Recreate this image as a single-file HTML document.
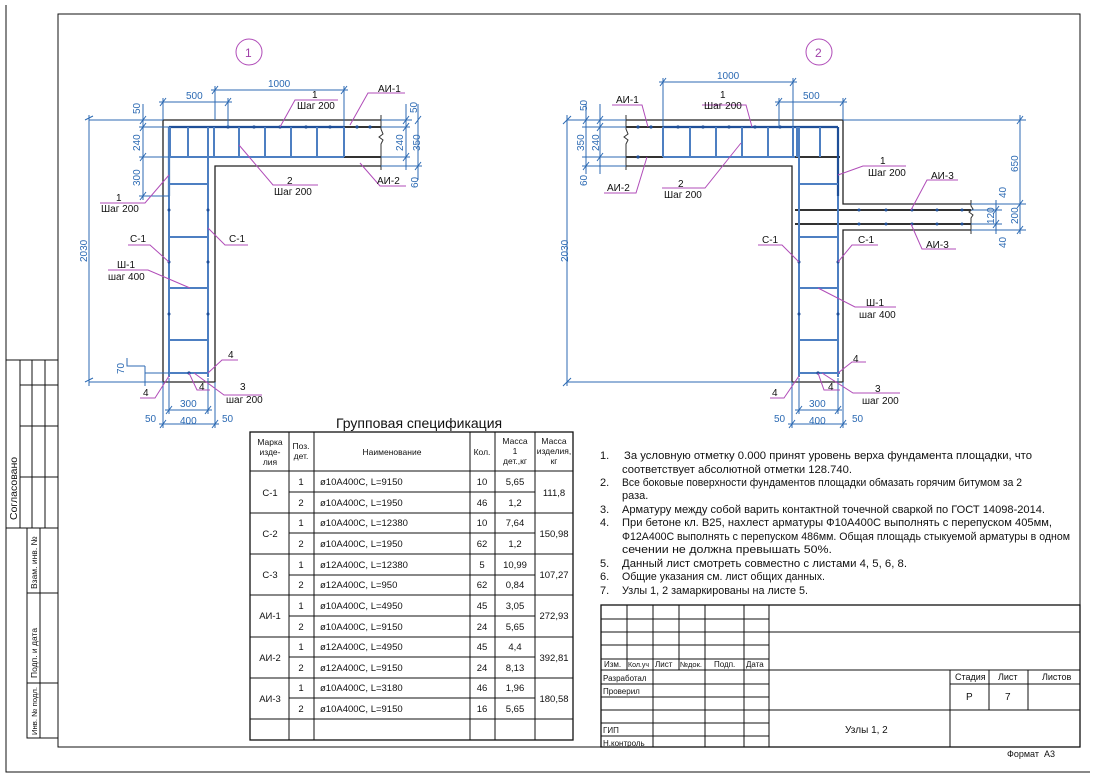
<!DOCTYPE html>
<html><head><meta charset="utf-8"><style>
html,body{margin:0;padding:0;background:#fff}
svg{display:block}
text{font-family:"Liberation Sans",sans-serif;fill:#111}
.d{stroke:#2c6ab3;stroke-width:1;fill:none}
.dt{fill:#2c6ab3;font-size:10px}
.m{stroke:#b04cb8;stroke-width:1;fill:none}
.k{stroke:#222;stroke-width:1.3;fill:none}
.r{stroke:#1f4f98;stroke-width:2.2;fill:none}
.s{stroke:#4d7fc2;stroke-width:2;fill:none}
.g{stroke:#333;stroke-width:2;fill:none}
.l{stroke:#111;stroke-width:1;fill:none}
.t{font-size:10px}
</style></head><body>
<svg width="1096" height="776" viewBox="0 0 1096 776" xmlns="http://www.w3.org/2000/svg">
<path class="l" d="M6,5 V772 H1090"/>
<rect x="58" y="14" width="1022" height="733" class="l" stroke-width="1.2"/>
<g class="l">
<rect x="6" y="360" width="52" height="168"/>
<path d="M20,360V528 M32,360V528 M45,360V528 M20,385H58 M20,426H58 M20,477H58"/>
<rect x="27" y="528" width="31" height="210"/>
<path d="M40,528V738 M27,593H58 M27,683H58"/>
</g>
<text transform="translate(17,520) rotate(-90)" font-size="10.5">Согласовано</text>
<text transform="translate(37,589) rotate(-90)" font-size="8.5">Взам. инв. №</text>
<text transform="translate(37,678) rotate(-90)" font-size="8.5">Подп. и дата</text>
<text transform="translate(37,735) rotate(-90)" font-size="7.5" textLength="48" lengthAdjust="spacingAndGlyphs">Инв. № подл.</text>

<!-- ============ DRAWING 1 ============ -->
<circle cx="249" cy="52" r="13" class="m"/>
<text x="245" y="57" font-size="12" style="fill:#a040a8">1</text>
<path class="k" d="M163,120 H381 M163,120 V382 H215 V166 H381"/>
<path d="M381,115 V129 l2,5 -4,3 4,3 -2,4 V170" stroke="#333" fill="none" stroke-width="1"/>
<path class="r" d="M169,127 H344 M169,127 V196"/>
<path class="g" d="M344,127 H381 M344,157 H381"/>
<path class="s" d="M169,157 H344 M169,127 V377 M208,127 V377"/>
<g class="s" stroke-width="1.6">
<path d="M188,127V157 M214,127V157 M239,127V157 M265,127V157 M291,127V157 M317,127V157 M344,127V157 M170,127V157"/>
<path d="M169,184H208 M169,237H208 M169,288H208 M169,340H208 M169,373H208"/>
</g>
<g fill="#1f4f98"><circle cx="228" cy="127" r="1.6"/><circle cx="254" cy="127" r="1.6"/><circle cx="280" cy="127" r="1.6"/><circle cx="306" cy="127" r="1.6"/><circle cx="330" cy="127" r="1.6"/><circle cx="357" cy="127" r="1.6"/><circle cx="370" cy="127" r="1.6"/><circle cx="169" cy="210" r="1.5"/><circle cx="208" cy="210" r="1.5"/><circle cx="169" cy="262" r="1.5"/><circle cx="208" cy="262" r="1.5"/><circle cx="169" cy="314" r="1.5"/><circle cx="208" cy="314" r="1.5"/><circle cx="189" cy="373" r="1.6"/></g>
<g class="d">
<path d="M215,86V120 M344,86V127 M211,90H348 M228,98V127 M163,98V120 M159,102H232"/>
<path d="M89,120H163 M89,382H163 M89,115V386 M85,120L93,116 M85,382L93,378"/>
<path d="M143,104V200 M139,120H163 M139,127H169 M139,157H169 M139,196H169"/>
<path d="M381,120H412 M381,127H410 M381,157H410 M381,166H422 M406,104V170 M418,104V180"/>
<path d="M163,382V428 M169,378V414 M208,378V414 M215,382V428 M165,410H212 M159,424H219"/>
<path d="M145,373H169 M145,382H163 M145,366V386 M127,358V366H145"/>
</g>
<g class="d" stroke-width="1.3"><path d="M212,94l6,-8 M341,94l6,-8 M160,106l6,-8 M225,106l6,-8 M140,124l6,-8 M140,131l6,-8 M140,161l6,-8 M140,200l6,-8 M403,124l6,-8 M403,131l6,-8 M403,161l6,-8 M415,124l6,-8 M415,170l6,-8 M166,414l6,-8 M205,414l6,-8 M160,428l6,-8 M212,428l6,-8"/></g>
<text class="dt" x="268" y="87">1000</text>
<text class="dt" x="186" y="99">500</text>
<text class="dt" transform="translate(140,114) rotate(-90)">50</text>
<text class="dt" transform="translate(140,151) rotate(-90)">240</text>
<text class="dt" transform="translate(140,186) rotate(-90)">300</text>
<text class="dt" transform="translate(87,262) rotate(-90)">2030</text>
<text class="dt" transform="translate(417,113) rotate(-90)">50</text>
<text class="dt" transform="translate(403,151) rotate(-90)">240</text>
<text class="dt" transform="translate(420,151) rotate(-90)">350</text>
<text class="dt" transform="translate(418,188) rotate(-90)">60</text>
<text class="dt" transform="translate(124,374) rotate(-90)">70</text>
<text class="dt" x="180" y="407">300</text>
<text class="dt" x="180" y="424">400</text>
<text class="dt" x="145" y="422">50</text>
<text class="dt" x="222" y="422">50</text>
<g class="m">
<path d="M280,127L295,100H338 M239,145L273,185H318 M169,175L145,203H100 M350,125L368,93H405 M360,163L380,186H406"/>
<path d="M208,228L225,245H248 M169,262L150,245H128 M190,288L148,270H108"/>
<path d="M208,373L222,360H238 M169,376L155,398H140 M189,373L197,390H210 M194,373L224,395H262"/>
</g>
<text class="t" x="312" y="98">1</text><text class="t" x="297" y="109">Шаг 200</text>
<text class="t" x="287" y="184">2</text><text class="t" x="274" y="195">Шаг 200</text>
<text class="t" x="116" y="201">1</text><text class="t" x="101" y="212">Шаг 200</text>
<text class="t" x="378" y="92">АИ-1</text>
<text class="t" x="377" y="184">АИ-2</text>
<text class="t" x="130" y="242">С-1</text>
<text class="t" x="229" y="242">С-1</text>
<text class="t" x="117" y="268">Ш-1</text><text class="t" x="108" y="280">шаг 400</text>
<text class="t" x="228" y="358">4</text>
<text class="t" x="143" y="396">4</text>
<text class="t" x="199" y="390">4</text>
<text class="t" x="240" y="390">3</text><text class="t" x="226" y="403">шаг 200</text>

<!-- ============ DRAWING 2 ============ -->
<circle cx="819" cy="52" r="13" class="m"/>
<text x="815" y="57" font-size="12" style="fill:#a040a8">2</text>
<path class="k" d="M626,120 H843 V204 H971 M626,166 H792 V382 H843 V230 H971"/>
<path d="M626,115 V129 l2,5 -4,3 4,3 -2,4 V170" stroke="#333" fill="none" stroke-width="1"/>
<path d="M971,200 V206 l2,3 -4,3 4,3 -2,3 V234" stroke="#333" fill="none" stroke-width="1"/>
<path class="g" d="M626,127H663 M626,157H663 M795,157H840 M795,210H971 M795,224H971"/>
<path class="r" d="M663,127H838 M838,127V196"/>
<path class="s" d="M663,157H795 M799,127V377 M838,196V377"/>
<g class="s" stroke-width="1.6">
<path d="M663,127V157 M690,127V157 M716,127V157 M742,127V157 M768,127V157 M793,127V157 M820,127V157 M797,127V157"/>
<path d="M799,184H838 M799,237H838 M799,288H838 M799,340H838 M799,373H840"/>
</g>
<g fill="#1f4f98"><circle cx="638" cy="127" r="1.6"/><circle cx="651" cy="127" r="1.6"/><circle cx="678" cy="127" r="1.6"/><circle cx="703" cy="127" r="1.6"/><circle cx="729" cy="127" r="1.6"/><circle cx="755" cy="127" r="1.6"/><circle cx="780" cy="127" r="1.6"/><circle cx="638" cy="157" r="1.6"/><circle cx="799" cy="262" r="1.5"/><circle cx="838" cy="262" r="1.5"/><circle cx="799" cy="314" r="1.5"/><circle cx="838" cy="314" r="1.5"/><circle cx="818" cy="373" r="1.6"/><circle cx="859" cy="210" r="1.5"/><circle cx="886" cy="210" r="1.5"/><circle cx="912" cy="210" r="1.5"/><circle cx="937" cy="210" r="1.5"/><circle cx="962" cy="210" r="1.5"/><circle cx="859" cy="224" r="1.5"/><circle cx="886" cy="224" r="1.5"/><circle cx="912" cy="224" r="1.5"/><circle cx="937" cy="224" r="1.5"/><circle cx="962" cy="224" r="1.5"/></g>
<g class="d">
<path d="M663,78V127 M793,78V127 M659,82H797 M779,98V127 M843,98V120 M775,102H847"/>
<path d="M567,120H626 M567,382H792 M567,115V386"/>
<path d="M600,104V174 M586,104V174 M582,120H626 M582,127H626 M582,157H626 M582,166H626"/>
<path d="M843,120H1026 M1020,115V234 M971,204H1026 M971,210H1002 M971,224H1002 M971,230H1026 M996,200V234"/>
<path d="M792,382V428 M799,378V414 M838,378V414 M843,382V428 M795,410H842 M788,424H847"/>
</g>
<g class="d" stroke-width="1.3"><path d="M563,124l8,-8 M563,386l8,-8 M660,86l6,-8 M790,86l6,-8 M776,106l6,-8 M840,106l6,-8 M597,124l6,-8 M597,131l6,-8 M597,161l6,-8 M583,124l6,-8 M583,170l6,-8 M1017,124l6,-8 M1017,208l6,-8 M1017,234l6,-8 M993,214l6,-8 M993,228l6,-8 M796,414l6,-8 M835,414l6,-8 M789,428l6,-8 M840,428l6,-8"/></g>
<text class="dt" x="717" y="79">1000</text>
<text class="dt" x="803" y="99">500</text>
<text class="dt" transform="translate(587,111) rotate(-90)">50</text>
<text class="dt" transform="translate(599,151) rotate(-90)">240</text>
<text class="dt" transform="translate(584,151) rotate(-90)">350</text>
<text class="dt" transform="translate(587,186) rotate(-90)">60</text>
<text class="dt" transform="translate(568,262) rotate(-90)">2030</text>
<text class="dt" transform="translate(1018,172) rotate(-90)">650</text>
<text class="dt" transform="translate(1018,224) rotate(-90)">200</text>
<text class="dt" transform="translate(994,224) rotate(-90)">120</text>
<text class="dt" transform="translate(1006,198) rotate(-90)">40</text>
<text class="dt" transform="translate(1006,248) rotate(-90)">40</text>
<text class="dt" x="809" y="407">300</text>
<text class="dt" x="809" y="424">400</text>
<text class="dt" x="774" y="422">50</text>
<text class="dt" x="852" y="422">50</text>
<g class="m">
<path d="M752,127L746,105H702 M741,143L705,188H662 M648,127L642,105H612 M647,157L636,193H604 M838,175L863,166H906"/>
<path d="M911,210L927,180H958 M911,224L922,249H956 M799,262L782,245H758 M838,262L852,245H878 M818,288L855,307H896"/>
<path d="M838,373L852,362H866 M799,376L784,398H770 M818,373L824,390H840 M822,373L853,393H900"/>
</g>
<text class="t" x="720" y="98">1</text><text class="t" x="704" y="109">Шаг 200</text>
<text class="t" x="678" y="187">2</text><text class="t" x="664" y="198">Шаг 200</text>
<text class="t" x="616" y="103">АИ-1</text>
<text class="t" x="607" y="191">АИ-2</text>
<text class="t" x="880" y="164">1</text><text class="t" x="868" y="176">Шаг 200</text>
<text class="t" x="931" y="179">АИ-3</text>
<text class="t" x="926" y="248">АИ-3</text>
<text class="t" x="762" y="243">С-1</text>
<text class="t" x="858" y="243">С-1</text>
<text class="t" x="866" y="306">Ш-1</text><text class="t" x="859" y="318">шаг 400</text>
<text class="t" x="853" y="362">4</text>
<text class="t" x="772" y="396">4</text>
<text class="t" x="828" y="390">4</text>
<text class="t" x="875" y="392">3</text><text class="t" x="862" y="404">шаг 200</text>

<!-- ============ TABLE ============ -->
<text x="336" y="428" font-size="14">Групповая спецификация</text>
<g class="l">
<rect x="250" y="432" width="323" height="308" stroke-width="1.3"/>
<path d="M289,432V740 M314,432V740 M470,432V740 M495,432V740 M535,432V740"/>
<path d="M250,471H573 M289,492H535 M250,513H573 M289,533H535 M250,554H573 M289,575H535 M250,595H573 M289,616H535 M250,637H573 M289,657H535 M250,678H573 M289,698H535 M250,719H573"/>
</g>
<g font-size="8.5" text-anchor="middle">
<text x="270" y="445">Марка</text><text x="270" y="455">изде-</text><text x="270" y="465">лия</text>
<text x="301" y="449">Поз.</text><text x="301" y="459">дет.</text>
<text x="392" y="455">Наименование</text>
<text x="482" y="455">Кол.</text>
<text x="515" y="444">Масса</text><text x="515" y="454">1</text><text x="515" y="464">дет.,кг</text>
<text x="554" y="444">Масса</text><text x="554" y="454">изделия,</text><text x="554" y="464">кг</text>
</g>
<g font-size="9.5">
<g text-anchor="middle">
<text x="270" y="496">С-1</text><text x="270" y="537">С-2</text><text x="270" y="578">С-3</text><text x="270" y="619">АИ-1</text><text x="270" y="661">АИ-2</text><text x="270" y="702">АИ-3</text>
<text x="301" y="485">1</text><text x="301" y="506">2</text><text x="301" y="526">1</text><text x="301" y="547">2</text><text x="301" y="568">1</text><text x="301" y="588">2</text><text x="301" y="609">1</text><text x="301" y="630">2</text><text x="301" y="650">1</text><text x="301" y="671">2</text><text x="301" y="691">1</text><text x="301" y="712">2</text>
<text x="482" y="485">10</text><text x="482" y="506">46</text><text x="482" y="526">10</text><text x="482" y="547">62</text><text x="482" y="568">5</text><text x="482" y="588">62</text><text x="482" y="609">45</text><text x="482" y="630">24</text><text x="482" y="650">45</text><text x="482" y="671">24</text><text x="482" y="691">46</text><text x="482" y="712">16</text>
<text x="515" y="485">5,65</text><text x="515" y="506">1,2</text><text x="515" y="526">7,64</text><text x="515" y="547">1,2</text><text x="515" y="568">10,99</text><text x="515" y="588">0,84</text><text x="515" y="609">3,05</text><text x="515" y="630">5,65</text><text x="515" y="650">4,4</text><text x="515" y="671">8,13</text><text x="515" y="691">1,96</text><text x="515" y="712">5,65</text>
<text x="554" y="496">111,8</text><text x="554" y="537">150,98</text><text x="554" y="578">107,27</text><text x="554" y="619">272,93</text><text x="554" y="661">392,81</text><text x="554" y="702">180,58</text>
</g>
<text x="320" y="485">ø10A400C, L=9150</text><text x="320" y="506">ø10A400C, L=1950</text><text x="320" y="526">ø10A400C, L=12380</text><text x="320" y="547">ø10A400C, L=1950</text><text x="320" y="568">ø12A400C, L=12380</text><text x="320" y="588">ø12A400C, L=950</text><text x="320" y="609">ø10A400C, L=4950</text><text x="320" y="630">ø10A400C, L=9150</text><text x="320" y="650">ø12A400C, L=4950</text><text x="320" y="671">ø12A400C, L=9150</text><text x="320" y="691">ø10A400C, L=3180</text><text x="320" y="712">ø10A400C, L=9150</text>
</g>

<!-- ============ NOTES ============ -->
<g font-size="11">
<text x="600" y="459">1.</text><text x="624" y="459" textLength="408" lengthAdjust="spacingAndGlyphs">За условную отметку 0.000 принят уровень верха фундамента площадки, что</text>
<text x="622" y="473" textLength="230" lengthAdjust="spacingAndGlyphs">соответствует абсолютной отметки 128.740.</text>
<text x="600" y="486">2.</text><text x="622" y="486" textLength="400" lengthAdjust="spacingAndGlyphs">Все боковые поверхности фундаментов площадки обмазать горячим битумом за 2</text>
<text x="622" y="499">раза.</text>
<text x="600" y="513">3.</text><text x="622" y="513" textLength="423" lengthAdjust="spacingAndGlyphs">Арматуру между собой варить контактной точечной сваркой по ГОСТ 14098-2014.</text>
<text x="600" y="526">4.</text><text x="622" y="526" textLength="430" lengthAdjust="spacingAndGlyphs">При бетоне кл. B25, нахлест арматуры Ф10А400С выполнять с перепуском 405мм,</text>
<text x="622" y="540" textLength="448" lengthAdjust="spacingAndGlyphs">Ф12А400С выполнять с перепуском 486мм. Общая площадь стыкуемой арматуры в одном</text>
<text x="622" y="553" textLength="210" lengthAdjust="spacingAndGlyphs">сечении не должна превышать 50%.</text>
<text x="600" y="567">5.</text><text x="622" y="567" textLength="285" lengthAdjust="spacingAndGlyphs">Данный лист смотреть совместно с листами 4, 5, 6, 8.</text>
<text x="600" y="580">6.</text><text x="622" y="580" textLength="203" lengthAdjust="spacingAndGlyphs">Общие указания см. лист общих данных.</text>
<text x="600" y="594">7.</text><text x="622" y="594" textLength="186" lengthAdjust="spacingAndGlyphs">Узлы 1, 2 замаркированы на листе 5.</text>
</g>

<!-- ============ TITLE BLOCK ============ -->
<g class="l">
<rect x="601" y="605" width="479" height="142" stroke-width="1.3"/>
<path d="M769,605V747 M627,605V670 M653,605V747 M679,605V670 M705,605V747 M744,605V747"/>
<path d="M601,619H769 M601,632H1080 M601,645H769 M601,659H769 M601,670H1080 M601,684H769 M601,697H769 M601,710H1080 M601,723H769 M601,736H769"/>
<path d="M950,670V747 M989,670V710 M1028,670V710 M950,684H1080"/>
</g>
<g font-size="8">
<text x="604" y="667">Изм.</text><text x="628" y="667" font-size="7">Кол.уч</text><text x="655" y="667">Лист</text><text x="680" y="667" font-size="7.5">№док.</text><text x="714" y="667">Подп.</text><text x="746" y="667">Дата</text>
<text x="603" y="681">Разработал</text><text x="603" y="694">Проверил</text><text x="603" y="733">ГИП</text><text x="603" y="746">Н.контроль</text>
<text x="955" y="680" font-size="9">Стадия</text><text x="998" y="680" font-size="9">Лист</text><text x="1042" y="680" font-size="9">Листов</text>
<text x="966" y="700" font-size="10">Р</text><text x="1005" y="700" font-size="10">7</text>
<text x="845" y="733" font-size="10">Узлы 1, 2</text>
<text x="1007" y="757" font-size="9">Формат</text><text x="1044" y="757" font-size="9">А3</text>
</g>
</svg>
</body></html>
